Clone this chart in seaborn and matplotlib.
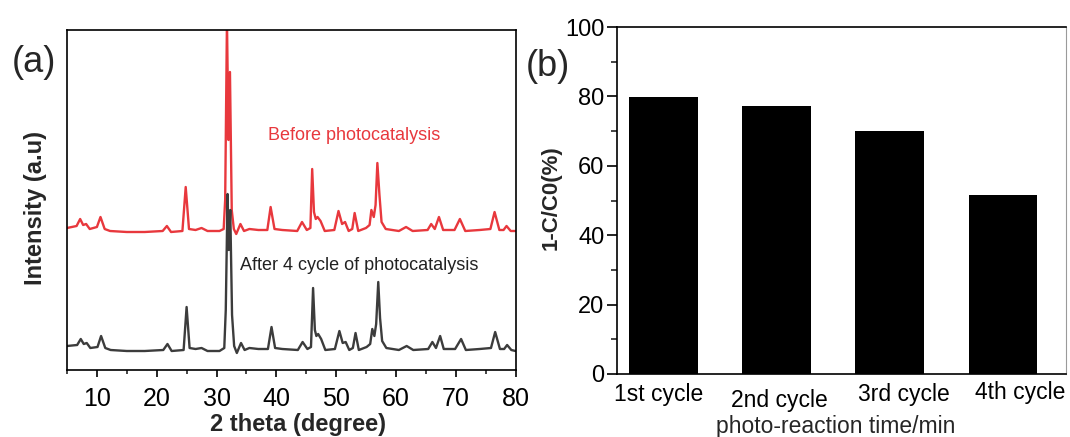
import matplotlib
matplotlib.use("Agg")
import matplotlib.pyplot as plt
import matplotlib.transforms as mtrans
from matplotlib.ticker import MultipleLocator
import seaborn as sns
import pandas as pd

# ---------------- data ----------------
# (a) XRD patterns (arbitrary intensity units, stacked)
two_theta_before = [5.0, 6.6, 7.2, 7.7, 8.2, 8.8, 10.0, 10.6, 11.3, 12.2, 15.0, 18.0, 21.0, 21.7, 22.4,
                    24.3, 24.85, 25.4, 26.5, 27.5, 28.5, 30.5, 31.2, 31.45, 31.75, 32.0, 32.25, 32.55,
                    32.9, 33.3, 34.0, 34.6, 35.5, 37.0, 38.5, 39.05, 39.7, 41.0, 43.5, 44.3, 45.1, 45.7,
                    46.0, 46.3, 46.6, 46.9, 47.4, 48.1, 49.7, 50.4, 51.0, 51.5, 52.1, 52.7, 53.1, 53.7,
                    55.0, 55.6, 55.9, 56.3, 56.6, 56.9, 57.25, 57.6, 58.3, 60.5, 61.7, 62.8, 65.3, 65.9,
                    66.5, 67.2, 67.9, 69.8, 70.7, 71.6, 74.0, 75.8, 76.5, 77.3, 78.0, 78.5, 79.2, 80.0]
intensity_before = [142, 144, 151, 145, 146, 141, 143, 153, 141, 139, 138, 138, 139, 144, 138,
                    139, 183, 141, 140, 142, 139, 139, 141, 170, 350, 230, 298, 160,
                    141, 136, 146, 139, 141, 140, 140, 163, 141, 140, 139, 148, 140, 142,
                    201, 158, 151, 153, 149, 139, 140, 159, 146, 148, 139, 141, 157, 139,
                    142, 145, 160, 153, 165, 207, 175, 148, 141, 139, 143, 139, 140, 146,
                    141, 153, 140, 140, 151, 139, 140, 141, 158, 140, 140, 144, 139, 139]

two_theta_after = [5.0, 6.7, 7.3, 7.8, 8.3, 8.9, 10.1, 10.7, 11.4, 12.3, 15.0, 18.0, 21.1, 21.8, 22.5,
                   24.5, 25.0, 25.5, 26.5, 27.5, 28.5, 30.5, 31.3, 31.55, 31.85, 32.05, 32.3, 32.6,
                   32.95, 33.4, 34.1, 34.7, 35.5, 37.0, 38.6, 39.2, 39.8, 41.0, 43.6, 44.4, 45.2, 45.8,
                   46.15, 46.45, 46.7, 47.0, 47.5, 48.2, 49.8, 50.55, 51.1, 51.6, 52.2, 52.8, 53.25, 53.8,
                   55.1, 55.7, 56.05, 56.4, 56.7, 57.05, 57.35, 57.7, 58.4, 60.5, 61.8, 62.9, 65.4, 66.1,
                   66.7, 67.4, 68.0, 69.9, 70.9, 71.7, 74.0, 75.9, 76.6, 77.4, 78.1, 78.6, 79.3, 80.0]
intensity_after = [24, 25, 31, 26, 27, 22, 23, 34, 22, 20, 19, 19, 20, 26, 19,
                   20, 63, 22, 21, 22, 19, 19, 22, 60, 176, 120, 160, 55,
                   24, 17, 27, 20, 22, 21, 21, 43, 22, 21, 20, 28, 21, 23,
                   82, 40, 34, 36, 31, 20, 21, 39, 27, 28, 20, 22, 37, 20,
                   23, 26, 41, 34, 46, 88, 52, 29, 22, 20, 24, 20, 21, 28,
                   22, 34, 21, 21, 31, 20, 21, 22, 38, 21, 21, 25, 20, 19]

xrd_ticks = [10, 20, 30, 40, 50, 60, 70, 80]

# (b) cycling test
cycles = ["1st cycle", "2nd cycle", "3rd cycle", "4th cycle"]
removal = [79.8, 77.3, 70.1, 51.7]
removal_ticks = [0, 20, 40, 60, 80, 100]

# ---------------- style ----------------
sns.set_theme(style="white")
plt.rcParams['font.family'] = ['Liberation Sans', 'DejaVu Sans']

RED = "#e8383d"
DARK = "#3c3c3c"

W, H = 1070, 437
fig = plt.figure(figsize=(W / 100, H / 100), dpi=100)
axA = fig.add_axes([67 / W, (H - 370) / H, 448.5 / W, 340 / H])
axB = fig.add_axes([617 / W, (H - 374) / H, 449 / W, 347 / H])

# ---------------- panel (a) ----------------
sns.lineplot(x=two_theta_before, y=intensity_before, ax=axA, color=RED, lw=1.7,
             sort=False, estimator=None)
sns.lineplot(x=two_theta_after, y=intensity_after, ax=axA, color=DARK, lw=1.7,
             sort=False, estimator=None)
axA.set_xlim(5, 80)
axA.set_ylim(0, 340)
axA.set_xticks(xrd_ticks)
axA.xaxis.set_minor_locator(MultipleLocator(5))
axA.set_yticks([])
axA.tick_params(axis='x', which='major', direction='out', length=5, width=1.2,
                labelsize=18, pad=7, bottom=True, colors='black')
axA.tick_params(axis='x', which='minor', direction='out', length=3, width=1.2, bottom=True)
for s in axA.spines.values():
    s.set_color('black')
    s.set_linewidth(1.2)
axA.set_xlabel("2 theta (degree)", fontsize=17, fontweight='bold')
axA.xaxis.set_label_coords(0.515, -0.125)
axA.set_ylabel("Intensity (a.u)", fontsize=17, fontweight='bold')
axA.yaxis.set_label_coords(-0.045, 0.476)
axA.text(53.0, 234, "Before photocatalysis", color=RED, fontsize=13,
         ha='center', va='center')
axA.text(53.9, 104, "After 4 cycle of photocatalysis", color='#222222', fontsize=13,
         ha='center', va='center')

# ---------------- panel (b) ----------------
df = pd.DataFrame({"cycle": cycles, "removal": removal})
sns.barplot(data=df, x="cycle", y="removal", ax=axB, color='black', width=0.607,
            saturation=1, order=cycles)
for p in axB.patches:
    p.set_edgecolor('none')
axB.set_xlim(-0.411, 3.557)
axB.set_ylim(0, 100)
axB.set_yticks(removal_ticks)
axB.yaxis.set_minor_locator(MultipleLocator(10))
axB.tick_params(axis='y', which='major', direction='out', length=7, width=1.2,
                labelsize=17, pad=2, left=True, colors='black')
axB.tick_params(axis='y', which='minor', direction='out', length=4, width=1.2, left=True)
axB.tick_params(axis='x', which='both', length=0, labelsize=16.5, pad=5, colors='black')
for name, s in axB.spines.items():
    s.set_color('black')
    s.set_linewidth(1.2)
axB.spines['right'].set_color('#9a9a9a')
axB.spines['right'].set_linewidth(0.8)
axB.set_xlabel("photo-reaction time/min", fontsize=16.5)
axB.xaxis.set_label_coords(0.487, -0.118)
axB.set_ylabel("1-C/C0(%)", fontsize=16, fontweight='bold')
axB.yaxis.set_label_coords(-0.124, 0.507)

# stagger the category labels as in the original
offsets = [(-4.5, -2), (3.0, -8.0), (14.5, -2.5), (17.7, 0)]
for lab, (dx, dy) in zip(axB.get_xticklabels(), offsets):
    lab.set_transform(lab.get_transform() +
                      mtrans.ScaledTranslation(dx / 100, dy / 100, fig.dpi_scale_trans))

# panel letters
fig.text(34 / W, 1 - 62 / H, "(a)", fontsize=26, ha='center', va='center')
fig.text(548 / W, 1 - 67 / H, "(b)", fontsize=26, ha='center', va='center')

fig.savefig("out.png", dpi=100)
